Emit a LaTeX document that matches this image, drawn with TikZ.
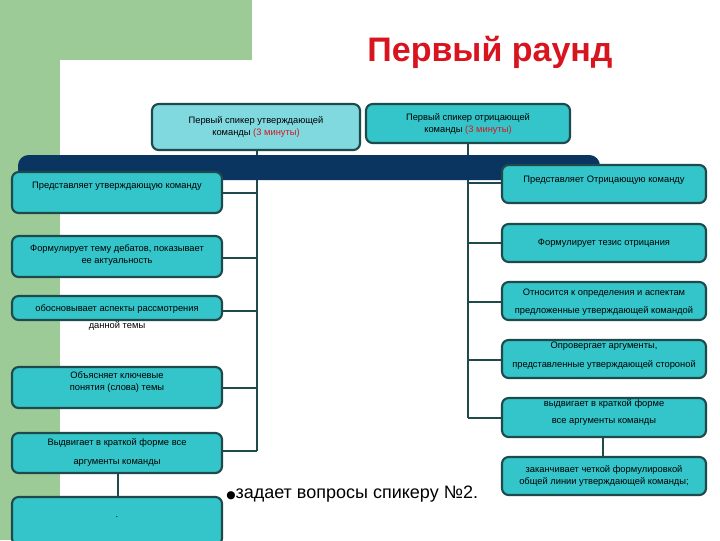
\documentclass[tikz,border=0pt]{standalone}
\usepackage{fontspec}
\setmainfont{Liberation Sans}
\newfontfamily\dejavu{DejaVu Sans}
\definecolor{bggreen}{HTML}{9DCB98}
\definecolor{navy}{HTML}{0B3561}
\definecolor{boxfill}{HTML}{33C5C9}
\definecolor{boxlight}{HTML}{80D9DE}
\definecolor{boxedge}{HTML}{1E4A4C}
\definecolor{titlered}{HTML}{D8141E}
\begin{document}
\begin{tikzpicture}[x=0.75pt,y=-0.75pt,
  bx/.style={draw=boxedge,line width=1.6pt,fill=boxfill,rounded corners=5pt},
  lbl/.style={font=\fontsize{7}{8.5}\selectfont,align=center,inner sep=0pt},
  ln/.style={draw=boxedge,line width=1.6pt}]
\useasboundingbox (0,0) rectangle (720,540);
\fill[bggreen] (0,0) rectangle (252,60);
\fill[bggreen] (0,0) rectangle (60,540);
\fill[white,rounded corners=20pt] (60,60) rectangle (740,560);
\node[text=titlered,font=\bfseries\fontsize{25.5}{28}\selectfont,anchor=center] (title) at (490,52) {Первый раунд};
% connector lines
\coordinate (lt) at (257,150);
\coordinate (lb) at (257,451);
\coordinate (rt) at (468,143);
\coordinate (rb) at (468,418);
\draw[ln] (lt) -- (lb);
\draw[ln] (rt) -- (rb);
% bar
\fill[navy,rounded corners=8pt] (18,155) rectangle (600,180);
% top boxes
\draw[bx,fill=boxlight] (152,104) rectangle (360,150);
\node[lbl] (a) at (256,127) {Первый спикер утверждающей\\команды {\color{titlered}(3 минуты)}};
\draw[bx] (366,104) rectangle (570,143);
\node[lbl] (b) at (468,124) {Первый спикер отрицающей\\команды {\color{titlered}(3 минуты)}};
% left boxes
\foreach \y/\h/\n in {172/213/l1,236/277/l2,296/320/l3,367/408/l4,433/473/l5,497/545/l6}{
  \draw[bx] (12,\y) rectangle (222,\h);
  \coordinate (\n e) at (222,\y);
}
\node[lbl] (t1) at (117,186) {Представляет утверждающую команду};
\node[lbl] (t2) at (117,255) {Формулирует тему дебатов, показывает\\ее актуальность};
\node[lbl] (t3a) at (117,309) {обосновывает аспекты рассмотрения};
\node[lbl] (t3b) at (117,326) {данной темы};
\node[lbl] (t4) at (117,382) {Объясняет ключевые\\понятия (слова) темы};
\node[lbl] (t5a) at (117,443) {Выдвигает в краткой форме все};
\node[lbl] (t5b) at (117,463) {аргументы команды};
\node[lbl] (t6) at (117,517) {.};
\foreach \y in {193,258,311,388,451}{\draw[ln] (222,\y) -- (257,\y);}
\draw[ln] (118,473) -- (118,497);
% right boxes
\foreach \y/\h in {165/203,224/262,282/320,340/378,398/437,457/495}{
  \draw[bx] (502,\y) rectangle (706,\h);
}
\node[lbl] (r1) at (604,180) {Представляет Отрицающую команду};
\node[lbl] (r2) at (604,243) {Формулирует тезис отрицания};
\node[lbl] (r3a) at (604,293) {Относится к определения и аспектам};
\node[lbl] (r3b) at (604,311) {предложенные утверждающей командой};
\node[lbl] (r4a) at (604,346) {Опровергает аргументы,};
\node[lbl] (r4b) at (604,365) {представленные утверждающей стороной};
\node[lbl] (r5a) at (604,404) {выдвигает в краткой форме};
\node[lbl] (r5b) at (604,422) {все аргументы команды};
\node[lbl] (r6) at (604,476) {заканчивает четкой формулировкой\\общей линии утверждающей команды;};
\foreach \y in {183,243,302,360,418}{\draw[ln] (468,\y) -- (502,\y);}
\draw[ln] (603,437) -- (603,457);
% bullet text
\node[anchor=west,inner sep=0pt,font=\fontsize{13.5}{15}\selectfont] (q) at (226,494) {{\dejavu\fontsize{8}{10}\selectfont●}задает вопросы спикеру №2.};
\end{tikzpicture}
\end{document}
